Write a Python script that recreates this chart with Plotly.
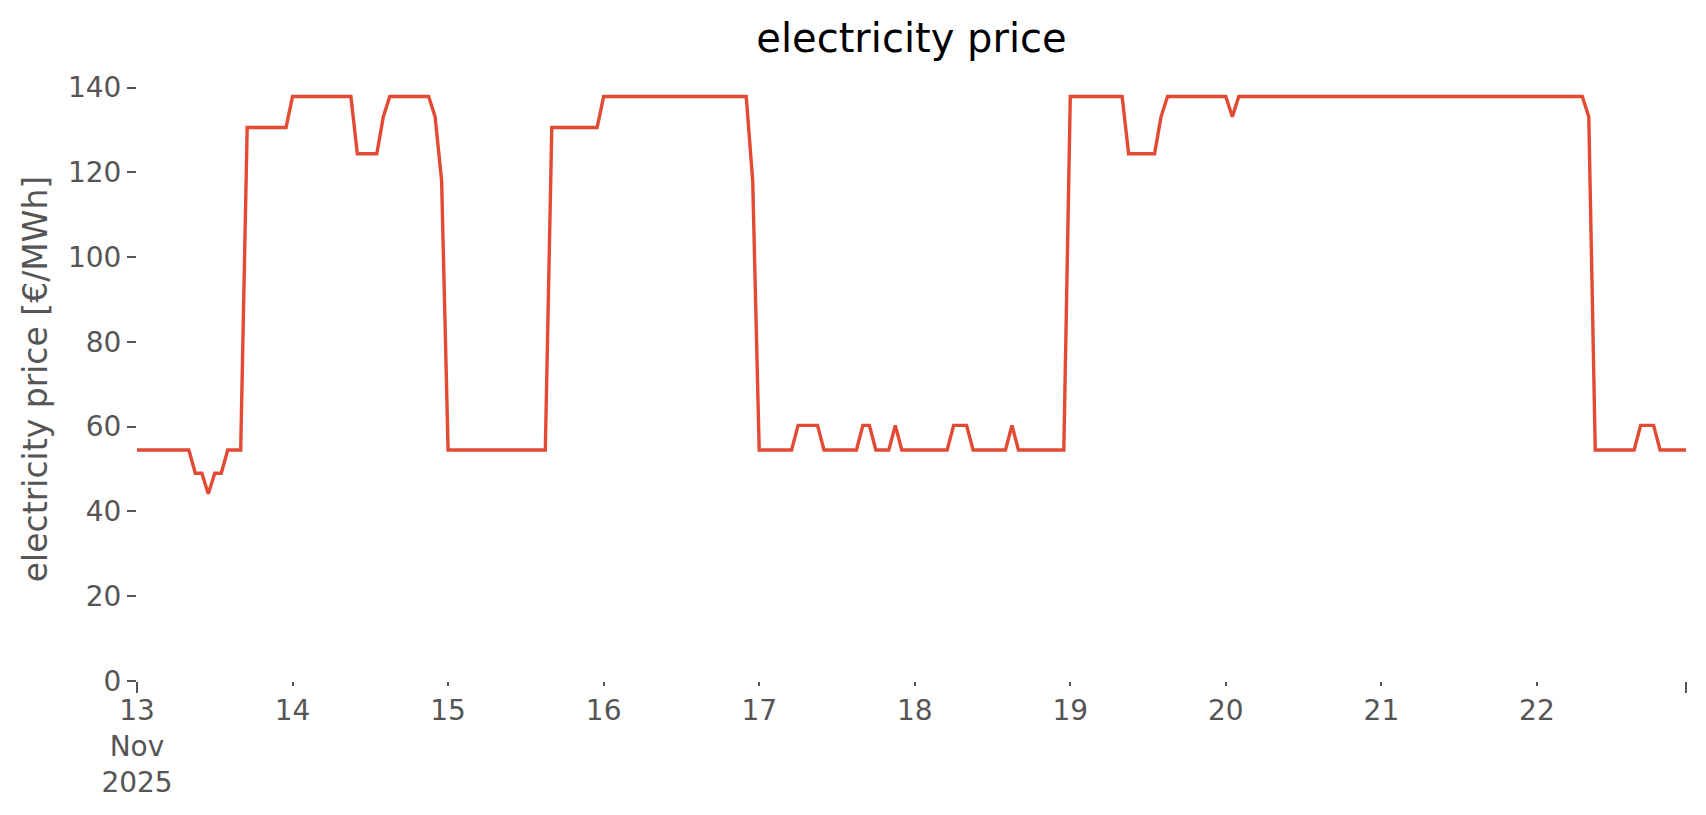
import pandas as pd
import plotly.graph_objects as go

# Hourly electricity price [€/MWh], one list per day (00:00 .. 23:00)
nov13 = [54.5]*9 + [49.0, 49.0, 44.2, 49.0, 49.0, 54.5, 54.5, 54.5] + [130.6]*7
nov14 = [137.9]*10 + [124.4]*4 + [133.1] + [137.9]*7 + [133.1, 118.0]
nov15 = [54.5]*16 + [130.6]*8
nov16 = [137.9]*23 + [118.0]
nov17 = [54.5]*6 + [60.3]*4 + [54.5]*6 + [60.3]*2 + [54.5]*3 + [60.3] + [54.5]*2
nov18 = [54.5]*6 + [60.3]*3 + [54.5]*6 + [60.3] + [54.5]*8
nov19 = [137.9]*9 + [124.4]*5 + [133.1] + [137.9]*9
nov20 = [137.9, 133.1] + [137.9]*22
nov21 = [137.9]*24
nov22 = [137.9]*8 + [133.1] + [54.5]*7 + [60.3]*3 + [54.5]*5

days = [nov13, nov14, nov15, nov16, nov17, nov18, nov19, nov20, nov21, nov22]
prices = [v for d in days for v in d]
times = pd.date_range("2025-11-13 00:00", periods=len(prices), freq="h")

day_ticks = list(pd.date_range("2025-11-13", "2025-11-22", freq="D"))
day_text = ["13<br>Nov<br>2025", "14", "15", "16", "17", "18", "19", "20", "21", "22"]
major_ticks = [times[0], times[-1]]
y_ticks = [0, 20, 40, 60, 80, 100, 120, 140]

fig = go.Figure()
fig.add_trace(go.Scatter(
    x=times, y=prices, mode="lines",
    line=dict(color="#E24A33", width=3.4),
    showlegend=False, hoverinfo="x+y",
))
# invisible companion trace so the overlay axis (major end ticks) is drawn
fig.add_trace(go.Scatter(
    x=times, y=prices, mode="lines", xaxis="x2",
    line=dict(color="rgba(0,0,0,0)", width=0),
    showlegend=False, hoverinfo="skip",
))

# page body has an 8px margin; figure sized so the page is 1706x815
W, H = 1690, 799
font_family = "DejaVu Sans"
fig.update_layout(
    width=W, height=H,
    paper_bgcolor="white", plot_bgcolor="white",
    margin=dict(l=128.5, r=12, t=68.5, b=125.8, autoexpand=False),
    font=dict(family=font_family, color="#555555", size=28),
    title=dict(
        text="electricity price",
        font=dict(family=font_family, size=40, color="black"),
        x=0.5, xref="paper", xanchor="center",
        y=1 - 30/H, yref="container", yanchor="middle",
    ),
    xaxis=dict(
        range=[times[0], times[-1]],
        tickmode="array", tickvals=day_ticks, ticktext=day_text,
        ticks="outside", ticklen=4, tickwidth=1.5, tickcolor="#555555",
        tickfont=dict(family=font_family, size=28, color="#555555"),
        showgrid=False, zeroline=False, showline=False, automargin=False,
    ),
    xaxis2=dict(
        overlaying="x", anchor="y", side="bottom",
        range=[times[0], times[-1]],
        tickmode="array", tickvals=major_ticks, ticktext=["", ""],
        ticks="outside", ticklen=11, tickwidth=1.5, tickcolor="#555555",
        showgrid=False, zeroline=False, showline=False, automargin=False,
    ),
    yaxis=dict(
        range=[0, 142.5],
        tickmode="array", tickvals=y_ticks,
        ticks="outside", ticklen=9, tickwidth=1.5, tickcolor="#555555",
        tickfont=dict(family=font_family, size=28, color="#555555"),
        title=dict(text="electricity price [€/MWh]",
                   font=dict(family=font_family, size=33, color="#555555"),
                   standoff=10),
        showgrid=False, zeroline=False, showline=False, automargin=False,
    ),
)

fig.write_html("out.html")
